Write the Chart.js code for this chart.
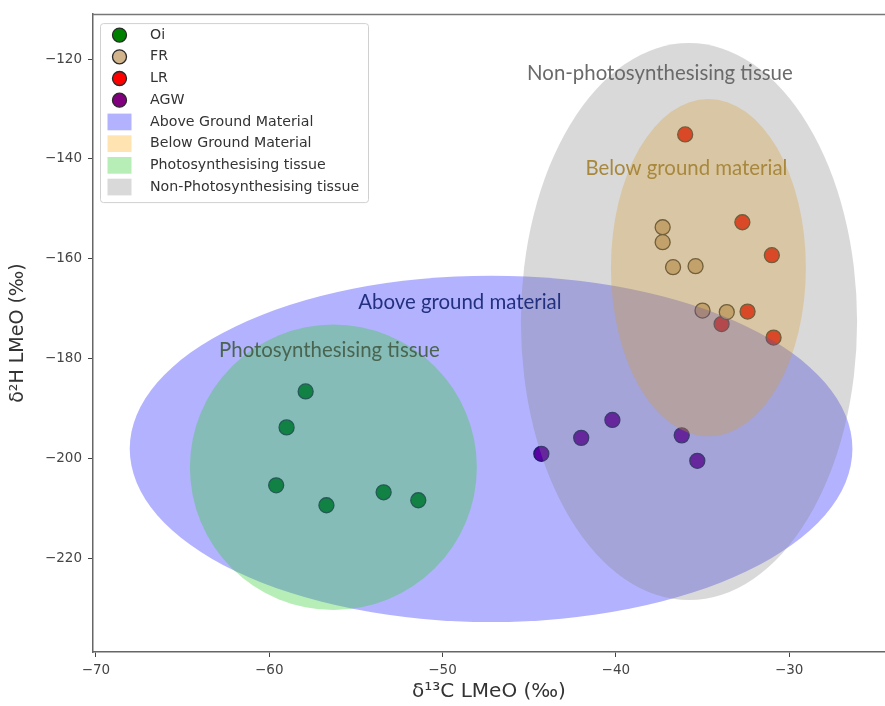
<!DOCTYPE html>
<html><head><meta charset="utf-8">
<script src="https://cdn.jsdelivr.net/npm/chart.js@4"></script>
<style>html,body{margin:0;padding:0;background:#fff}#wrap{width:885px;height:706px}</style>
</head><body><div id="wrap"><canvas id="c" width="885" height="706"></canvas></div>
<script>
// ---------- data ----------
const seriesNames = ['Oi', 'FR', 'LR', 'AGW'];
const oiX  = [-57.9, -59.0, -59.6, -56.7, -53.4, -51.4];
const oiY  = [-186.6, -193.8, -205.4, -209.4, -206.8, -208.4];
const frX  = [-37.3, -37.3, -36.7, -35.4, -35.0, -33.6];
const frY  = [-153.7, -156.7, -161.7, -161.5, -170.4, -170.7];
const lrX  = [-36.0, -32.7, -31.0, -32.4, -33.9, -30.9];
const lrY  = [-135.1, -152.7, -159.3, -170.6, -173.1, -175.8];
const agwX = [-44.3, -42.0, -40.2, -36.2, -35.3];
const agwY = [-199.1, -195.9, -192.3, -195.4, -200.5];

// regions (ellipses) in data units: centre, full width, full height
const regionNames = ['Above Ground Material', 'Below Ground Material', 'Photosynthesising tissue', 'Non-Photosynthesising tissue'];
const regionCX = [-47.2, -34.66, -56.3, -35.78];
const regionCY = [-198.1, -161.8, -201.8, -172.6];
const regionW  = [41.7, 11.25, 16.56, 19.4];
const regionH  = [69.4, 67.6, 57.2, 111.6];

// in-plot labels (data-unit anchors)
const noteTexts = ['Non-photosynthesising tissue', 'Below ground material', 'Above ground material', 'Photosynthesising tissue'];
const noteX = [-37.46, -35.93, -49.0, -56.53];
const noteY = [-122.8, -142.0, -168.8, -178.4];

const xTicks = [-70, -60, -50, -40, -30];
const yTicks = [-220, -200, -180, -160, -140, -120];

// ---------- styles ----------
const pointFill = ['#008000', '#d2b48c', '#ff0000', '#800080'];
const pointEdge = '#2a2a2a';
const regionFill = ['rgba(0,0,255,0.3)', 'rgba(255,165,0,0.3)', 'rgba(50,205,50,0.35)', 'rgba(128,128,128,0.3)'];
const regionOrder = [0, 1, 2, 3];
const noteColor = ['#6a6a6a', '#a8883c', '#23307f', '#4a6450'];

const toPts = (xs, ys) => xs.map((x, i) => ({x: x, y: ys[i]}));
const seriesData = [toPts(oiX, oiY), toPts(frX, frY), toPts(lrX, lrY), toPts(agwX, agwY)];

const minus = v => (v < 0 ? '\u2212' + Math.abs(v) : String(v));

const overlay = {
  id: 'overlay',
  afterDatasetsDraw(chart) {
    const {ctx, chartArea: a, scales: {x, y}} = chart;
    ctx.save();
    ctx.beginPath();
    ctx.rect(a.left, a.top, a.right - a.left, a.bottom - a.top);
    ctx.clip();
    regionOrder.forEach(i => {
      const cx = x.getPixelForValue(regionCX[i]);
      const cy = y.getPixelForValue(regionCY[i]);
      const rx = Math.abs(x.getPixelForValue(regionCX[i] + regionW[i] / 2) - cx);
      const ry = Math.abs(y.getPixelForValue(regionCY[i] + regionH[i] / 2) - cy);
      ctx.beginPath();
      ctx.ellipse(cx, cy, rx, ry, 0, 0, Math.PI * 2);
      ctx.fillStyle = regionFill[i];
      ctx.fill();
    });
    ctx.font = '20.4px Lato';
    ctx.textAlign = 'center';
    ctx.textBaseline = 'middle';
    noteTexts.forEach((t, i) => {
      ctx.fillStyle = noteColor[i];
      ctx.fillText(t, x.getPixelForValue(noteX[i]), y.getPixelForValue(noteY[i]));
    });
    ctx.restore();
  },
  afterDraw(chart) {
    const {ctx, chartArea: a} = chart;
    ctx.save();
    // top spine
    ctx.strokeStyle = '#777';
    ctx.lineWidth = 1.5;
    ctx.beginPath();
    ctx.moveTo(a.left, a.top + 0.5);
    ctx.lineTo(a.right, a.top + 0.5);
    ctx.stroke();
    // legend
    const L = a.left + 7, T = a.top + 9, W = 268, H = 179;
    ctx.beginPath();
    ctx.roundRect(L + 0.5, T + 0.5, W, H, 3);
    ctx.fillStyle = 'rgba(255,255,255,0.85)';
    ctx.fill();
    ctx.strokeStyle = '#d0d0d0';
    ctx.lineWidth = 1;
    ctx.stroke();
    ctx.font = '14.2px "DejaVu Sans"';
    ctx.textAlign = 'left';
    ctx.textBaseline = 'middle';
    const rowH = 21.7;
    const items = seriesNames.map((n, i) => ({label: n, kind: 'pt', col: pointFill[i]}))
      .concat(regionNames.map((n, i) => ({label: n, kind: 'patch', col: regionFill[i]})));
    items.forEach((it, i) => {
      const cy = T + 12 + i * rowH;
      if (it.kind === 'pt') {
        ctx.beginPath();
        ctx.arc(L + 19.5, cy, 7, 0, Math.PI * 2);
        ctx.fillStyle = it.col;
        ctx.fill();
        ctx.strokeStyle = pointEdge;
        ctx.lineWidth = 1.3;
        ctx.stroke();
      } else {
        ctx.fillStyle = it.col;
        ctx.fillRect(L + 7.5, cy - 8.3, 24, 16.7);
      }
      ctx.fillStyle = '#333';
      ctx.fillText(it.label, L + 50, cy);
    });
    ctx.restore();
  }
};

new Chart(document.getElementById('c'), {
  type: 'scatter',
  data: {
    datasets: seriesNames.map((n, i) => ({
      label: n,
      data: seriesData[i],
      backgroundColor: pointFill[i],
      borderColor: pointEdge,
      pointRadius: 7.5,
      pointHoverRadius: 7.5,
      borderWidth: 1.3
    }))
  },
  options: {
    responsive: false,
    animation: false,
    devicePixelRatio: 1,
    layout: {autoPadding: false, padding: {top: 13, left: 0, right: 0, bottom: 0}},
    plugins: {legend: {display: false}, tooltip: {enabled: false}},
    scales: {
      x: {
        type: 'linear', min: -70.17, max: -24.47,
        afterBuildTicks: s => { s.ticks = xTicks.map(v => ({value: v})); },
        afterFit: s => { s.height = 54; },
        ticks: {font: {family: 'DejaVu Sans', size: 13.5}, color: '#444', padding: 5, callback: v => minus(v)},
        grid: {display: true, drawOnChartArea: false, drawTicks: true, tickLength: 5, tickColor: '#444', tickWidth: 1},
        border: {display: true, color: '#666', width: 1.5},
        title: {display: true, text: 'δ\u00b9\u00b3C LMeO (‰)', font: {family: 'DejaVu Sans', size: 20}, color: '#333', padding: {top: 0, bottom: 2.5}}
      },
      y: {
        type: 'linear', min: -238.8, max: -111.0,
        afterBuildTicks: s => { s.ticks = yTicks.map(v => ({value: v})); },
        afterFit: s => { s.width = 93; },
        ticks: {font: {family: 'DejaVu Sans', size: 13.5}, color: '#444', padding: 6, callback: v => minus(v)},
        grid: {display: true, drawOnChartArea: false, drawTicks: true, tickLength: 5, tickColor: '#444', tickWidth: 1},
        border: {display: true, color: '#666', width: 1.5},
        title: {display: true, text: 'δ\u00b2H LMeO (‰)', font: {family: 'DejaVu Sans', size: 19}, color: '#333', padding: {top: 6.6, bottom: 0}}
      }
    }
  },
  plugins: [overlay]
});
</script>
</body></html>
